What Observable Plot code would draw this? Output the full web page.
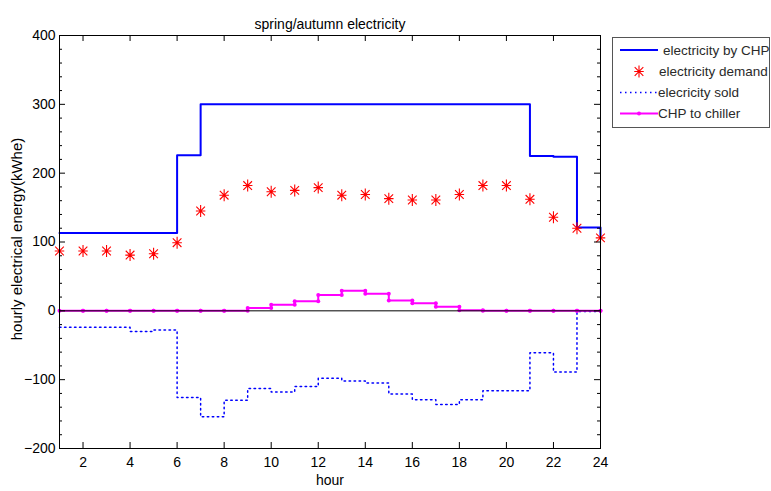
<!DOCTYPE html>
<html><head><meta charset="utf-8">
<script src="https://cdn.jsdelivr.net/npm/d3@7"></script>
<script src="https://cdn.jsdelivr.net/npm/@observablehq/plot@0.6"></script>
<style>body{margin:0;background:#fff}#chart{position:relative;width:771px;height:491px}</style>
</head><body><div id="chart"></div>
<script>
const hours = [1,2,3,4,5,6,7,8,9,10,11,12,13,14,15,16,17,18,19,20,21,22,23,24];
const chpElectricity = [113,113,113,113,113,226,300,300,300,300,300,300,300,300,300,300,300,300,300,300,225,224,121,106];
const demand = [87,87,87,81,83,99,145,168,182,173,175,179,168,169,163,161,161,169,182,182,162,136,120,106];
const sold = [-24,-24,-24,-30,-28,-126,-154,-130,-113,-118,-110,-98,-102,-105,-121,-129,-136,-129,-116,-116,-61,-89,-1,0];
const chpToChiller = [0,0,0,0,0,0,0,0,4,9,14,23,29,25,15,11,6,1,0,0,0,0,0,0];
const xTicks = [2,4,6,8,10,12,14,16,18,20,22,24];
const yTicks = [-200,-100,0,100,200,300,400];
const yMinorTicks = [-180,-160,-140,-120,-80,-60,-40,-20,20,40,60,80,120,140,160,180,220,240,260,280,320,340,360,380];
const legendLabels = ["electricity by CHP","electricity demand","elecricity sold","CHP to chiller"];
const titleText = "spring/autumn electricity";
const xLabel = "hour";
const yLabel = "hourly electrical energy(kWhe)";

const W = 771, H = 491, mL = 59, mR = 171, mT = 35, mB = 43;
const fw = W - mL - mR, fh = H - mT - mB;

const rows = hours.map((h, i) => ({hour: h, chp: chpElectricity[i], demand: demand[i], sold: sold[i], chiller: chpToChiller[i]}));
const chillerVerts = rows.flatMap((d, i) => i === 0 ? [{hour: d.hour, v: d.chiller}] : [{hour: d.hour, v: chpToChiller[i - 1]}, {hour: d.hour, v: d.chiller}]);

const asterisk = {
  draw(ctx, size) {
    const r = Math.sqrt(size / Math.PI);
    const d = r * 0.72;
    ctx.moveTo(0, -r); ctx.lineTo(0, r);
    ctx.moveTo(-d * 1.1, 0); ctx.lineTo(d * 1.1, 0);
    ctx.moveTo(-d, -d); ctx.lineTo(d, d);
    ctx.moveTo(-d, d); ctx.lineTo(d, -d);
  }
};

const font = "'Liberation Sans', Arial, Helvetica, sans-serif";
const dotted = "1.5,3.5";

const svg = Plot.plot({
  width: W, height: H,
  marginLeft: mL, marginRight: mR, marginTop: mT, marginBottom: mB,
  style: {background: "#fff", fontFamily: font, fontSize: "14px", color: "#000"},
  x: {domain: [1, 24], axis: null},
  y: {domain: [-200, 400], axis: null},
  marks: [
    Plot.axisX(xTicks, {tickSize: 0, tickPadding: 9, fontSize: 14, label: null, anchor: "bottom"}),
    Plot.axisY(yTicks, {tickSize: 0, tickPadding: 4, fontSize: 14, label: null, anchor: "left"}),
    Plot.line(rows, {x: "hour", y: "sold", curve: "step-after", stroke: "#0000ff", strokeWidth: 1.5, strokeDasharray: dotted}),
    Plot.line(rows, {x: "hour", y: "chp", curve: "step-after", stroke: "#0000ff", strokeWidth: 2}),
    Plot.line(rows, {x: "hour", y: "chiller", curve: "step-after", stroke: "#ff00ff", strokeWidth: 2}),
    Plot.dot(chillerVerts, {x: "hour", y: "v", r: 2, fill: "#ff00ff", stroke: "none"}),
    Plot.ruleY([0], {stroke: "#000", strokeWidth: 1}),
    Plot.dot(rows, {x: "hour", y: "demand", r: 6, symbol: asterisk, fill: "none", stroke: "#ff0000", strokeWidth: 1.1}),
    // inward ticks
    Plot.ruleX(xTicks, {x: d => d, stroke: "#000", insetTop: fh - 6}),
    Plot.ruleX(xTicks, {x: d => d, stroke: "#000", insetBottom: fh - 6}),
    Plot.ruleY(yTicks, {y: d => d, stroke: "#000", insetRight: fw - 6}),
    Plot.ruleY(yTicks, {y: d => d, stroke: "#000", insetLeft: fw - 6}),
    Plot.ruleY(yMinorTicks, {y: d => d, stroke: "#000", insetRight: fw - 3}),
    Plot.ruleY(yMinorTicks, {y: d => d, stroke: "#000", insetLeft: fw - 3}),
    Plot.frame({stroke: "#000", strokeWidth: 1}),
    Plot.text([titleText], {text: d => d, frameAnchor: "top", dy: -16, fontSize: 14}),
    Plot.text([xLabel], {text: d => d, frameAnchor: "bottom", dy: 36, fontSize: 14}),
    Plot.text([yLabel], {text: d => d, frameAnchor: "left", textAnchor: "middle", dx: -42, dy: -3, rotate: -90, fontSize: 15})
  ]
});
document.getElementById("chart").appendChild(svg);

// legend
const g = d3.select(svg).append("g").attr("font-family", font).attr("font-size", 13.5).attr("text-anchor", "start");
g.append("rect").attr("x", 612.5).attr("y", 37.5).attr("width", 157).attr("height", 90)
  .attr("fill", "#fff").attr("stroke", "#555").attr("stroke-width", 1);
const rowY = [50, 71.5, 92.5, 113.5];
const textX = [663, 659, 658, 658];
g.append("line").attr("x1", 620).attr("x2", 658).attr("y1", rowY[0]).attr("y2", rowY[0]).attr("stroke", "#0000ff").attr("stroke-width", 2);
const ast = d3.path(); asterisk.draw(ast, Math.PI * 36);
g.append("path").attr("d", ast.toString()).attr("transform", `translate(639,${rowY[1]})`).attr("stroke", "#ff0000").attr("fill", "none").attr("stroke-width", 1.1);
g.append("line").attr("x1", 620).attr("x2", 658).attr("y1", rowY[2]).attr("y2", rowY[2]).attr("stroke", "#0000ff").attr("stroke-width", 1.5).attr("stroke-dasharray", dotted);
g.append("line").attr("x1", 620).attr("x2", 658).attr("y1", rowY[3]).attr("y2", rowY[3]).attr("stroke", "#ff00ff").attr("stroke-width", 2);
g.append("circle").attr("cx", 639).attr("cy", rowY[3]).attr("r", 2).attr("fill", "#ff00ff");
legendLabels.forEach((t, i) => {
  g.append("text").attr("x", textX[i]).attr("y", rowY[i]).attr("dy", "0.35em").attr("fill", "#2a2a2a").attr("text-anchor", "start").text(t);
});
</script>
</body></html>
